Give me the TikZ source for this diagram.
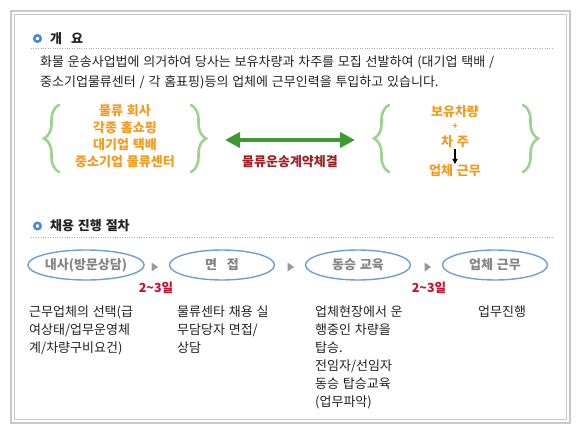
\documentclass[tikz,border=0pt]{standalone}
\usepackage{fontspec}
\setmainfont[WordSpace=1.3]{Noto Sans CJK KR}
\usetikzlibrary{shapes.geometric,arrows.meta,decorations.pathreplacing}
\definecolor{frameg}{HTML}{C8C8C8}
\definecolor{dotg}{HTML}{AAAAAA}
\definecolor{bulletb}{HTML}{3F88D8}
\definecolor{orangeT}{HTML}{F39A1F}
\definecolor{darkred}{HTML}{9E1F24}
\definecolor{arrowg}{HTML}{3C9A2E}
\definecolor{braceg}{HTML}{9BD48E}
\definecolor{ellb}{HTML}{6E9ED6}
\definecolor{ellt}{HTML}{858585}
\definecolor{redT}{HTML}{C8102E}
\definecolor{trig}{HTML}{999999}
\definecolor{bodyt}{HTML}{222222}
\begin{document}
\begin{tikzpicture}[x=1pt,y=-1pt,
  body/.style={font=\fontsize{13}{18}\selectfont, text=bodyt, inner sep=0pt, anchor=base west},
  head/.style={font=\fontsize{13}{15}\selectfont\bfseries, text=bodyt, inner sep=0pt, anchor=base west},
  bullet/.style={circle, draw=bulletb, line width=2.4pt, fill=white, minimum size=6.5pt, inner sep=0pt},
  dotline/.style={dotg, line width=0.6pt, dash pattern=on 0.8pt off 1.6pt},
  orangebox/.style={font=\fontsize{13}{17}\selectfont\bfseries, text=orangeT, inner sep=0pt, anchor=base},
  bracestyle/.style={braceg, line width=2.6pt, line cap=round, decorate, decoration={brace, amplitude=#1}},
  stepell/.style={ellipse, draw=ellb, line width=1.4pt, minimum width=105pt, minimum height=30pt, inner sep=0pt, font=\fontsize{13}{14}\selectfont\bfseries, text=ellt},
  tri/.style={isosceles triangle, fill=trig, inner sep=0pt, minimum width=9pt, minimum height=6pt, isosceles triangle apex angle=70},
  days/.style={font=\fontsize{12.5}{14}\selectfont\bfseries, text=redT, inner sep=0pt, anchor=base},
  desc/.style={font=\fontsize{13}{18}\selectfont, text=bodyt, inner sep=0pt, anchor=north west, align=left}
]
\useasboundingbox (0,0) rectangle (581,438);
% frame
\draw[frameg, line width=2.4pt] (11,11) rectangle (570,423);
\draw[frameg, line width=0.8pt] (14.5,14.5) rectangle (566.5,419.5);

% section 1
\node[bullet] (b1) at (37.5,38.5) {};
\node[head] (h1) at (50,43.5) {개\hspace{9pt}요};
\coordinate (d1s) at (31,48);
\coordinate (d1e) at (553,48);
\draw[dotline] (d1s) -- (d1e);
\node[body] (l1) at (40,67) {화물 운송사업법에 의거하여 당사는 보유차량과 차주를 모집 선발하여 (대기업 택배 /};
\node[body] (l2) at (40,87) {중소기업물류센터 / 각 홈표핑)등의 업체에 근무인력을 투입하고 있습니다.};

% left group
\draw[bracestyle=15pt] (59,172) -- (59,105);
\draw[bracestyle=15pt] (191,105) -- (191,172);
\node[orangebox] (g1) at (125,116) {물류 회사};
\node[orangebox] (g2) at (125,133) {각종 홈쇼핑};
\node[orangebox] (g3) at (125,150) {대기업 택배};
\node[orangebox] (g4) at (125,167) {중소기업 물류센터};

% arrow
\coordinate (al) at (225,140);
\coordinate (ar) at (355,140);
\draw[arrowg, line width=4.5pt, {Triangle[length=15pt,width=15pt]}-{Triangle[length=15pt,width=15pt]}] (al) -- (ar);
\node[font=\fontsize{13}{14}\selectfont\bfseries, text=darkred, inner sep=0pt, anchor=base] (contract) at (290,167) {물류운송계약체결};

% right group
\draw[bracestyle=15pt] (389,172) -- (389,105);
\draw[bracestyle=15pt] (523,105) -- (523,172);
\node[orangebox] (r1) at (455,117) {보유차량};
\node[font=\fontsize{9}{10}\selectfont\bfseries, text=orangeT, inner sep=0pt] (rplus) at (455,127) {+};
\node[orangebox] (r2) at (455,147) {차\ 주};
\node[orangebox] (r3) at (455,176) {업체\ 근무};
\coordinate (ra) at (455,149.5);
\coordinate (rb) at (455,164);
\draw[black, line width=1.2pt, -{Triangle[length=5pt,width=5pt]}] (ra) -- (rb);

% section 2
\node[bullet] (b2) at (37.5,226) {};
\node[head] (h2) at (50,231) {채용 진행 절차};
\coordinate (d2s) at (31,237);
\coordinate (d2e) at (553,237);
\draw[dotline] (d2s) -- (d2e);

\node[stepell] (e1) at (86,265) {내사(방문상담)};
\node[stepell] (e2) at (222,265) {면\hspace{10pt}접};
\node[stepell] (e3) at (358,265) {동승 교육};
\node[stepell] (e4) at (495,265) {업체 근무};
\node[tri] (t1) at (154,267) {};
\node[tri] (t2) at (290,267) {};
\node[tri] (t3) at (427,267) {};
\node[days] (dy1) at (156,293) {2\textasciitilde3일};
\node[days] (dy2) at (429,293) {2\textasciitilde3일};

% descriptions
\node[desc] (c1) at (29,306) {근무업체의 선택(급\\여상태/업무운영체\\계/차량구비요건)};
\node[desc] (c2) at (177,306) {물류센타 채용 실\\무담당자 면접/\\상담};
\node[desc] (c3) at (315,306) {업체현장에서 운\\행중인 차량을\\탑승.\\전임자/선임자\\동승 탑승교육\\(업무파악)};
\node[desc] (c4) at (478,306) {업무진행};
\end{tikzpicture}
\end{document}
